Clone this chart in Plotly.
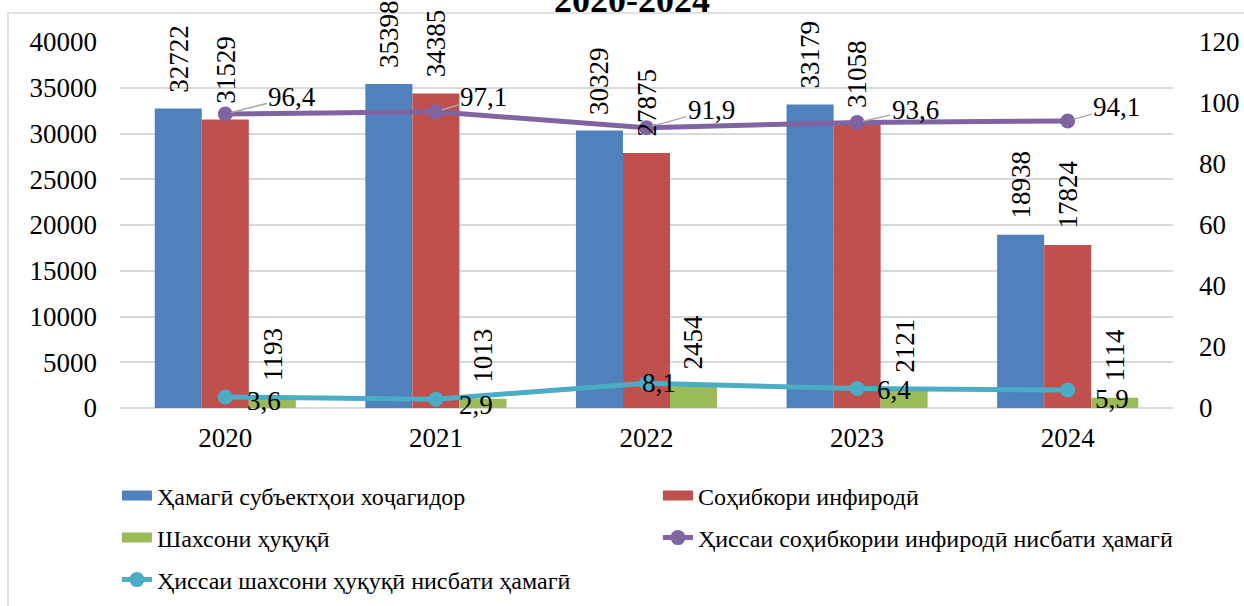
import plotly.graph_objects as go

years = ["2020", "2021", "2022", "2023", "2024"]
total = [32722, 35398, 30329, 33179, 18938]
individual = [31529, 34385, 27875, 31058, 17824]
legal = [1193, 1013, 2454, 2121, 1114]
share_individual = [96.4, 97.1, 91.9, 93.6, 94.1]
share_legal = [3.6, 2.9, 8.1, 6.4, 5.9]

names = [
    "Ҳамагӣ субъектҳои хоҷагидор",
    "Соҳибкори инфиродӣ",
    "Шахсони ҳуқуқӣ",
    "Ҳиссаи соҳибкории инфиродӣ нисбати ҳамагӣ",
    "Ҳиссаи шахсони ҳуқуқӣ нисбати ҳамагӣ",
]
title_text = "2020-2024"

# styles
FONT = "Liberation Serif, Times New Roman, serif"
C_BLUE, C_RED, C_GREEN = "#4F81BD", "#C0504D", "#9BBB59"
C_PURPLE, C_CYAN = "#8064A2", "#4BACC6"
GRID = "#D9D9D9"
BARGAP = 0.33
purple_off = [(67, -17), (48, -15), (65, -18), (58, -13), (49, -14)]
cyan_off = [(39, 4), (40, 6), (12, 0), (37, 2), (44, 9)]

fig = go.Figure()

bar_specs = [(total, C_BLUE, names[0]), (individual, C_RED, names[1]), (legal, C_GREEN, names[2])]
for vals, col, nm in bar_specs:
    fig.add_trace(go.Bar(
        x=years, y=vals, name=nm, marker=dict(color=col, line=dict(width=0)),
        showlegend=False, hoverinfo="skip",
    ))

fig.add_trace(go.Scatter(
    x=years, y=share_individual, yaxis="y2", mode="lines+markers", name=names[3],
    line=dict(color=C_PURPLE, width=5), marker=dict(size=15, color=C_PURPLE),
    cliponaxis=False, showlegend=False,
))
fig.add_trace(go.Scatter(
    x=years, y=share_legal, yaxis="y2", mode="lines+markers", name=names[4],
    line=dict(color=C_CYAN, width=5), marker=dict(size=15, color=C_CYAN),
    cliponaxis=False, showlegend=False,
))

legend_specs = [
    (names[0], C_BLUE, "legend", False),
    (names[1], C_RED, "legend", False),
    (names[2], C_GREEN, "legend2", False),
    (names[3], C_PURPLE, "legend2", True),
    (names[4], C_CYAN, "legend3", True),
]
for nm, col, lg, mk in legend_specs:
    if mk:
        fig.add_trace(go.Scatter(x=[years[0]], y=[None], mode="lines+markers", name=nm, legend=lg,
                                 line=dict(color=col, width=5), marker=dict(size=15, color=col)))
    else:
        fig.add_trace(go.Scatter(x=[years[0]], y=[None], mode="lines", name=nm, legend=lg,
                                 line=dict(color=col, width=12)))

annotations = []
# bar value labels (vertical, above each bar)
bar_w = (1 - BARGAP) / len(bar_specs)
for k, (vals, _, _) in enumerate(bar_specs):
    for i, v in enumerate(vals):
        annotations.append(dict(
            x=i + (k - 1) * bar_w, y=v, xref="x", yref="y", text=str(v),
            textangle=-90, xanchor="center", yanchor="bottom", yshift=14,
            showarrow=False, font=dict(family=FONT, size=27, color="black"),
        ))
for i, (v, (dx, dy)) in enumerate(zip(share_individual, purple_off)):
    annotations.append(dict(
        x=i, y=v, xref="x", yref="y2", text=f"{v:.1f}".replace(".", ","),
        showarrow=True, arrowhead=0, arrowwidth=1.5, arrowcolor="#A6A6A6",
        ax=dx, ay=dy, standoff=6, font=dict(family=FONT, size=27, color="black"),
    ))
for i, (v, (dx, dy)) in enumerate(zip(share_legal, cyan_off)):
    annotations.append(dict(
        x=i, y=v, xref="x", yref="y2", text=f"{v:.1f}".replace(".", ","),
        showarrow=False, xshift=dx, yshift=-dy,
        font=dict(family=FONT, size=27, color="black"),
    ))
annotations.append(dict(
    x=0.486, y=1, xref="paper", yref="paper", xanchor="center", yanchor="bottom",
    text=f"<b>{title_text}</b>", showarrow=False, yshift=20,
    font=dict(family=FONT, size=36, color="black"),
))

leg_common = dict(orientation="h", xanchor="left", yanchor="middle", xref="paper", x=-0.0029,
                  yref="paper", entrywidth=496, entrywidthmode="pixels",
                  font=dict(family=FONT, size=24, color="black"), bgcolor="rgba(0,0,0,0)")

fig.update_layout(
    width=1244, height=606, autosize=False,
    margin=dict(l=120, r=71, t=42, b=198, autoexpand=False),
    paper_bgcolor="white", plot_bgcolor="white",
    barmode="group", bargap=BARGAP, bargroupgap=0,
    font=dict(family=FONT, size=27, color="black"),
    xaxis=dict(type="category", categoryorder="array", categoryarray=years, range=[-0.5, 4.5],
               showgrid=False, showline=False, ticks="",
               tickfont=dict(family=FONT, size=27, color="black"), ticklabelstandoff=11),
    yaxis=dict(range=[0, 40000], dtick=5000, showgrid=True, gridcolor=GRID, gridwidth=1.5,
               zeroline=True, zerolinecolor=GRID, zerolinewidth=1.5, showline=False,
               tickfont=dict(family=FONT, size=27, color="black"), ticklabelstandoff=22,
               tickformat="d"),
    yaxis2=dict(range=[0, 120], dtick=20, overlaying="y", side="right", showgrid=False,
                zeroline=False, showline=False,
                tickfont=dict(family=FONT, size=27, color="black"), ticklabelstandoff=25),
    legend=dict(**leg_common, y=-0.2404),
    legend2=dict(**leg_common, y=-0.3552),
    legend3=dict(**leg_common, y=-0.4699),
    annotations=annotations,
    shapes=[dict(type="rect", xref="paper", yref="paper", x0=-0.1064, y0=-0.65, x1=1.2, y1=1.0792,
                 line=dict(color=GRID, width=1.5), fillcolor="rgba(0,0,0,0)", layer="below")],
    hovermode=False,
)

post = (
    "document.body.style.margin='0';"
    "document.body.style.overflow='hidden';"
    "document.documentElement.style.overflow='hidden';"
    "var gd=document.getElementById('{plot_id}');"
    "Plotly.relayout(gd,{width:1244,height:606});"
)
fig.write_html("out.html", config={"responsive": False, "displayModeBar": False}, post_script=post)
